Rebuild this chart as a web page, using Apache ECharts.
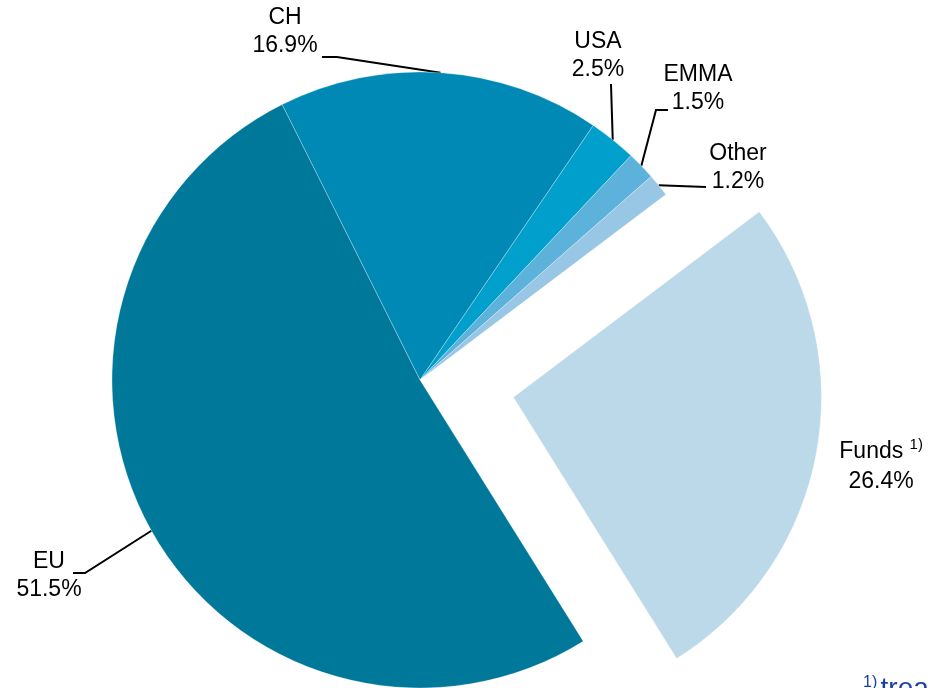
<!DOCTYPE html>
<html>
<head>
<meta charset="utf-8">
<script src="https://cdn.jsdelivr.net/npm/echarts@6/dist/echarts.min.js"></script>
<style>
  html, body { margin: 0; padding: 0; background: #ffffff; }
  #chart { width: 928px; height: 688px; }
</style>
</head>
<body>
<div id="chart"></div>
<script>
// Regional split of the portfolio (percent), clockwise from the CH slice
const regions = ['CH', 'USA', 'EMMA', 'Other', 'Funds', 'EU'];
const shares = [16.9, 2.5, 1.5, 1.2, 26.4, 51.5];
const sliceColors = ['#0089b5', '#009fcc', '#5cb2db', '#98c7e5', '#bcd9ea', '#00789a'];
const exploded = 'Funds';

// Where each label sits and how its leader line bends
const labelSpots = {
  CH:    { x: 285, y: 32,  bends: [[337, 57], [322, 57]] },
  USA:   { x: 598, y: 56,  bends: [[611, 84]] },
  EMMA:  { x: 698, y: 89,  bends: [[656, 110], [668, 110]] },
  Other: { x: 738, y: 168, bends: [[706, 187]] },
  EU:    { x: 49,  y: 576, bends: [[85, 573], [73, 573]] }
};

const FONT = 'Liberation Sans, Arial, sans-serif';
const chart = echarts.init(document.getElementById('chart'), null, { renderer: 'canvas' });

const data = regions.map((name, i) => {
  const item = {
    name,
    value: shares[i],
    selected: name === exploded,
    itemStyle: { color: sliceColors[i] },
    labelLine: { show: name !== exploded }
  };
  if (name === exploded) {
    // the pulled-out slice keeps its own label placement; nudge it with padding
    item.label = { padding: [24, 0, 0, 80] };
  }
  return item;
});

chart.setOption({
  animation: false,
  backgroundColor: '#ffffff',
  series: [{
    type: 'pie',
    center: [420, 380],
    radius: 308,
    startAngle: 116.6,
    clockwise: true,
    selectedMode: 'single',
    selectedOffset: 95,
    avoidLabelOverlap: false,
    data,
    itemStyle: { borderColor: 'rgba(255,255,255,0.35)', borderWidth: 0.8 },
    emphasis: { disabled: true },
    label: {
      show: true,
      position: 'outside',
      fontFamily: FONT,
      fontSize: 23,
      lineHeight: 28,
      color: '#000000',
      align: 'center',
      formatter: p => p.name === exploded
        ? '{t|' + p.name + ' }{sup|1)}\n{t|' + p.value.toFixed(1) + '%}'
        : p.name + '\n' + p.value.toFixed(1) + '%',
      rich: {
        t: { fontFamily: FONT, fontSize: 23, lineHeight: 30, color: '#000' },
        sup: { fontFamily: FONT, fontSize: 15, lineHeight: 30, color: '#000', verticalAlign: 'top', padding: [0, 0, 10, 0] }
      }
    },
    labelLine: {
      show: true,
      length: 10,
      length2: 10,
      lineStyle: { color: '#000000', width: 2 }
    },
    labelLayout: function (params) {
      const spot = labelSpots[regions[params.dataIndex]];
      if (!spot) return { align: 'center' };
      const out = { x: spot.x, y: spot.y, align: 'center', verticalAlign: 'middle', hideOverlap: false, moveOverlap: false };
      if (params.labelLinePoints) {
        out.labelLinePoints = [params.labelLinePoints[0]].concat(spot.bends);
      }
      return out;
    }
  }],
  graphic: [{
    type: 'text',
    left: 863,
    top: 675,
    style: {
      text: '{s|1)} {b|treasury funds}',
      rich: {
        s: { fontFamily: FONT, fontSize: 16, fill: '#1b3fa6', verticalAlign: 'top', padding: [0, 0, 10, 0] },
        b: { fontFamily: FONT, fontSize: 28, fill: '#1b3fa6' }
      }
    }
  }]
});
</script>
</body>
</html>
